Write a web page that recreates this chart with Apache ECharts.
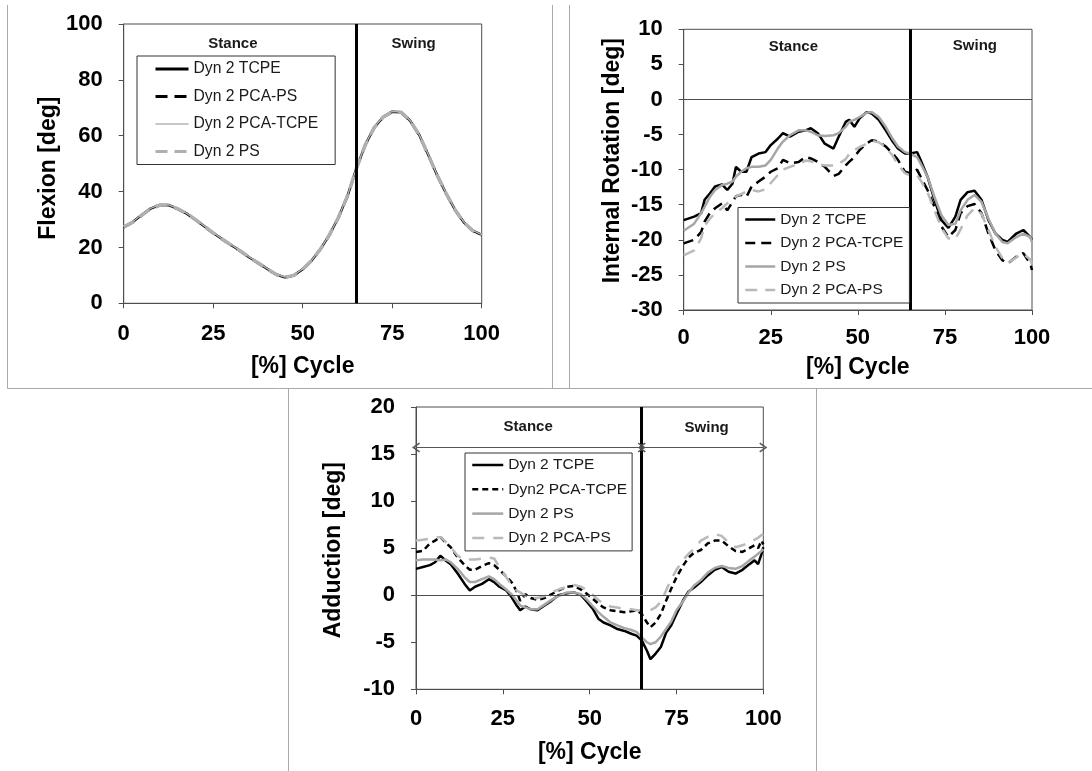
<!DOCTYPE html>
<html>
<head>
<meta charset="utf-8">
<title>Knee kinematics over the gait cycle</title>
<script src="https://cdn.jsdelivr.net/npm/echarts@6/dist/echarts.min.js"></script>
<style>
  html, body { margin: 0; padding: 0; background: #fff; }
  #chart { width: 1092px; height: 771px; }
</style>
</head>
<body>
<div id="chart"></div>
<script>
// ---- Flexion (% of gait cycle) ----
const flexPct = [0, 2.5, 5, 7.5, 10, 12.5, 15, 17.5, 20, 22.5, 25, 27.5, 30, 32.5, 35, 37.5, 40, 42.5, 45, 47.5,
  50, 52.5, 55, 57.5, 60, 62.5, 65, 67.5, 70, 72.5, 75, 77.5, 80, 82.5, 85, 87.5, 90, 92.5, 95, 97.5, 100];
const flexTCPE = [27.4, 29.1, 31.6, 33.9, 35.2, 35.2, 33.9, 32.2, 30.0, 27.6, 25.2, 23.0, 20.9, 18.8, 16.5, 14.5, 12.4, 10.4, 9.3, 10.0,
  12.2, 15.3, 19.5, 24.6, 30.8, 38.4, 48.3, 56.8, 63.0, 66.7, 68.6, 68.4, 65.4, 60.4, 53.4, 46.0, 39.5, 33.6, 29.0, 26.0, 24.5];
const flexPCAPS = [27.2, 29.0, 31.4, 33.8, 35.0, 35.1, 33.8, 32.1, 29.9, 27.5, 25.1, 22.9, 20.8, 18.7, 16.5, 14.4, 12.3, 10.3, 9.2, 9.9,
  12.1, 15.2, 19.4, 24.5, 30.7, 38.3, 48.2, 56.7, 62.9, 66.6, 68.5, 68.3, 65.3, 60.3, 53.3, 45.9, 39.4, 33.5, 28.9, 25.9, 24.4];
const flexPCATCPE = [27.5, 29.2, 31.7, 34.0, 35.3, 35.3, 34.0, 32.3, 30.1, 27.7, 25.3, 23.1, 21.0, 18.9, 16.6, 14.6, 12.5, 10.5, 9.4, 10.1,
  12.3, 15.4, 19.6, 24.7, 30.9, 38.5, 48.4, 56.9, 63.1, 66.8, 68.7, 68.5, 65.5, 60.5, 53.5, 46.1, 39.6, 33.7, 29.1, 26.1, 24.6];
const flexPS = [27.3, 29.0, 31.5, 33.9, 35.1, 35.2, 33.9, 32.2, 30.0, 27.6, 25.2, 23.0, 20.9, 18.8, 16.5, 14.5, 12.4, 10.4, 9.2, 10.0,
  12.2, 15.3, 19.5, 24.6, 30.8, 38.4, 48.3, 56.8, 63.0, 66.7, 68.6, 68.4, 65.4, 60.4, 53.4, 46.0, 39.5, 33.6, 29.0, 26.0, 24.5];

// ---- Internal rotation ----
const rotPct = [0, 3, 5, 6, 7.5, 9, 11, 12.5, 14, 15, 16.5, 18, 19.5, 21.5, 23.5, 25, 27, 28.5, 30.5, 33, 35, 36.5, 38.5, 40.5, 43,
  44.5, 46.5, 47.5, 49, 50.5, 52.5, 54, 56, 58, 60, 61.5, 63.5, 65, 67, 68, 70, 72, 74, 76, 78, 79.5, 81.5, 83.5, 85.5, 87.5,
  89.5, 91.5, 93, 95.5, 97.5, 99.5, 100];
const rotTCPE = [-17.2, -16.7, -16.2, -14.3, -13.4, -12.4, -12.1, -12.9, -12.0, -9.6, -10.3, -10.3, -8.2, -7.7, -7.5, -6.5, -5.6, -4.8, -5.3, -4.6, -4.4, -4.1, -4.8, -6.3, -7.0,
  -5.3, -3.2, -2.9, -3.9, -2.7, -1.8, -2.0, -2.9, -4.4, -6.0, -7.0, -7.7, -7.7, -7.5, -8.6, -11.0, -14.3, -17.2, -18.3, -16.7, -14.3, -13.2, -13.0, -14.3, -17.2,
  -19.1, -20.0, -20.3, -19.1, -18.6, -19.6, -20.0];
const rotPCATCPE = [-20.5, -20.0, -18.9, -17.4, -16.2, -15.5, -14.8, -15.8, -14.6, -13.8, -13.6, -13.9, -12.4, -11.7, -11.0, -10.3, -9.8, -8.6, -9.1, -8.9, -8.2, -8.4, -8.9, -9.6, -10.9,
  -10.6, -9.4, -8.9, -8.2, -7.2, -6.3, -5.8, -6.0, -6.7, -7.7, -8.6, -10.3, -10.5, -10.0, -11.0, -12.9, -15.3, -18.1, -19.6, -18.6, -16.2, -15.2, -14.9, -16.2, -19.1,
  -21.5, -22.9, -23.4, -22.4, -21.9, -23.4, -24.3];
const rotPS = [-18.7, -17.7, -16.2, -15.3, -13.9, -12.9, -12.2, -12.0, -11.7, -11.0, -10.3, -9.8, -9.6, -9.6, -9.4, -8.6, -7.0, -6.0, -5.1, -4.4, -4.4, -4.6, -5.1, -5.2, -5.1,
  -4.8, -3.9, -3.2, -2.9, -2.5, -1.9, -1.8, -2.5, -3.9, -5.6, -6.7, -7.5, -7.7, -8.2, -9.1, -11.0, -13.9, -16.5, -17.9, -17.7, -15.8, -14.3, -13.6, -14.6, -17.0,
  -19.1, -20.3, -20.5, -19.6, -19.1, -19.6, -20.3];
const rotPCAPS = [-22.2, -21.5, -19.8, -18.0, -17.0, -16.2, -15.5, -14.8, -14.3, -13.8, -13.5, -13.1, -12.9, -13.1, -12.8, -11.9, -10.8, -10.0, -9.6, -9.2, -8.7, -8.8, -9.2, -9.4, -9.4,
  -9.2, -8.5, -7.8, -7.2, -6.8, -6.3, -5.9, -6.1, -6.8, -8.0, -9.3, -10.5, -10.8, -10.8, -11.5, -13.2, -15.8, -18.3, -19.8, -19.9, -18.5, -16.5, -15.5, -16.3, -18.6,
  -21.0, -22.6, -23.3, -22.5, -22.0, -22.8, -23.5];

// ---- Adduction ----
const addPct = [0, 2, 4, 5.5, 7, 8.5, 10, 12, 14, 15.5, 17, 19, 21, 22.5, 24, 26, 27.5, 29, 30, 31.5, 33, 35, 37, 39, 41, 43.5,
  45.5, 47.5, 49, 51, 52.5, 54, 56, 58, 60, 62, 63.5, 65, 66.5, 67.5, 69, 70.5, 72, 73.5, 75, 77, 78.5, 80, 82, 84, 86, 88,
  90, 92, 94, 96, 97.5, 98.5, 99.5, 100];
const addTCPE = [2.8, 3.0, 3.2, 3.5, 4.2, 3.7, 3.3, 2.3, 1.2, 0.5, 0.9, 1.2, 1.7, 1.4, 0.9, 0.5, -0.2, -1.1, -1.6, -1.2, -1.5, -1.6, -1.1, -0.6, 0.0, 0.2,
  0.3, 0.0, -0.6, -1.5, -2.5, -2.9, -3.2, -3.6, -3.8, -4.1, -4.3, -4.8, -5.9, -6.8, -6.2, -5.5, -4.0, -3.2, -2.0, -0.5, 0.4, 0.8, 1.4, 2.1, 2.7, 3.0,
  2.5, 2.3, 2.7, 3.3, 3.7, 3.3, 4.4, 5.1];
const addPCATCPE = [4.6, 4.7, 5.5, 5.8, 6.2, 5.6, 5.1, 4.0, 3.2, 2.7, 2.7, 3.1, 3.4, 3.2, 2.7, 2.0, 1.4, 0.4, -0.6, 0.1, -0.3, -0.5, -0.3, 0.1, 0.5, 0.9,
  1.0, 0.6, 0.2, -0.4, -0.9, -1.3, -1.6, -1.7, -1.8, -1.7, -1.6, -2.0, -2.9, -3.4, -2.9, -2.0, -0.6, 0.7, 1.9, 3.2, 4.0, 4.5, 4.8, 5.5, 5.8, 5.8,
  5.2, 4.7, 4.6, 5.0, 5.3, 5.0, 5.8, 5.4];
const addPS = [3.7, 3.8, 3.8, 3.8, 3.7, 3.8, 3.5, 2.8, 1.9, 1.4, 1.4, 1.7, 2.0, 1.7, 1.2, 0.6, 0.1, -0.6, -1.1, -1.3, -1.5, -1.5, -1.0, -0.5, -0.1, 0.3,
  0.3, 0.1, -0.4, -1.2, -1.8, -2.3, -2.9, -3.2, -3.5, -3.7, -3.9, -4.5, -5.0, -5.2, -5.0, -4.4, -3.6, -2.8, -1.6, -0.6, 0.3, 1.0, 1.6, 2.4, 2.9, 3.1,
  2.9, 2.8, 3.1, 3.7, 4.1, 4.4, 4.7, 4.9];
const addPCAPS = [5.8, 5.9, 6.0, 6.1, 6.2, 5.7, 5.1, 4.2, 3.7, 3.8, 3.8, 3.9, 4.0, 3.9, 3.0, 1.9, 1.1, 0.5, 0.3, -0.1, -0.3, -0.3, -0.1, 0.3, 0.6, 0.9,
  1.1, 0.9, 0.6, 0.0, -0.5, -0.9, -1.2, -1.3, -1.5, -1.5, -1.6, -1.6, -1.6, -1.6, -1.3, -0.7, 0.5, 1.7, 2.7, 3.8, 4.4, 4.9, 5.8, 6.2, 6.5, 6.3,
  5.6, 5.1, 5.3, 5.6, 5.9, 6.1, 6.4, 6.5];

// ---- Axis / phase text ----
const xTitle = '[%] Cycle';
const yTitles = ['Flexion [deg]', 'Internal Rotation [deg]', 'Adduction [deg]'];
const stanceEnd = 65;
const phaseNames = ['Stance', 'Swing'];

const FONT = '"Liberation Sans", Arial, sans-serif';
const BLACK = '#000';
const GRAY = '#a6a6a6';
const GRAY_DASH = '#b9b9b9';

function pairs(xs, ys) { return xs.map((x, i) => [x, ys[i]]); }

function lineSeries(panel, name, xs, ys, color, width, type, extra) {
  return Object.assign({
    type: 'line', name: name, xAxisIndex: panel, yAxisIndex: panel,
    data: pairs(xs, ys), symbol: 'none', showSymbol: false, smooth: false,
    animation: false, silent: true,
    lineStyle: { color: color, width: width, type: type }
  }, extra || {});
}

function phaseMarks(panel, stanceAt, swingAt, withZero) {
  const lines = [{ xAxis: stanceEnd, lineStyle: { color: '#000', width: 3, type: 'solid' } }];
  if (withZero) lines.push({ yAxis: 0, lineStyle: { color: '#4d4d4d', width: 1, type: 'solid' } });
  return {
    markLine: { silent: true, animation: false, symbol: 'none', label: { show: false }, data: lines },
    markPoint: {
      silent: true, animation: false, symbol: 'rect', symbolSize: 1,
      itemStyle: { color: 'rgba(0,0,0,0)' },
      label: { show: true, position: 'inside', formatter: '{b}', fontSize: 15, fontWeight: 'bold', color: '#1a1a1a', fontFamily: FONT },
      data: [{ name: phaseNames[0], coord: stanceAt }, { name: phaseNames[1], coord: swingAt }]
    }
  };
}

// open chevron pointing "up" (rotated by markLine along the line direction)
const CHEVRON = 'path://M5,0 L10,8.4 L8.7,9.4 L5,3 L1.3,9.4 L0,8.4 Z';

const series = [
  // Flexion
  lineSeries(0, 'Dyn 2 TCPE', flexPct, flexTCPE, BLACK, 2.5, 'solid', phaseMarks(0, [30.5, 92.8], [81, 92.8], false)),
  lineSeries(0, 'Dyn 2 PCA-PS', flexPct, flexPCAPS, BLACK, 2.5, [12, 7]),
  lineSeries(0, 'Dyn 2 PCA-TCPE', flexPct, flexPCATCPE, '#b3b3b3', 1.5, 'solid'),
  lineSeries(0, 'Dyn 2 PS', flexPct, flexPS, '#b0b0b0', 3.5, [12, 7]),
  // Internal rotation
  lineSeries(1, 'Dyn 2 TCPE', rotPct, rotTCPE, BLACK, 2.5, 'solid', phaseMarks(1, [31.5, 7.5], [83.6, 7.6], true)),
  lineSeries(1, 'Dyn 2 PCA-TCPE', rotPct, rotPCATCPE, BLACK, 2.5, [10, 6]),
  lineSeries(1, 'Dyn 2 PS', rotPct, rotPS, GRAY, 2.5, 'solid'),
  lineSeries(1, 'Dyn 2 PCA-PS', rotPct, rotPCAPS, GRAY_DASH, 2.5, [12, 8]),
  // Adduction
  lineSeries(2, 'Dyn 2 TCPE', addPct, addTCPE, BLACK, 2.5, 'solid', phaseMarks(2, [32.3, 17.9], [83.7, 17.8], true)),
  lineSeries(2, 'Dyn2 PCA-TCPE', addPct, addPCATCPE, BLACK, 2.5, [6, 4], {
    markLine: {
      silent: true, animation: false, symbol: [CHEVRON, CHEVRON], symbolSize: [10, 8],
      label: { show: false },
      lineStyle: { color: '#555', width: 1, type: 'solid' },
      data: [
        [{ coord: [0, 15.7] }, { coord: [stanceEnd, 15.7] }],
        [{ coord: [stanceEnd, 15.7] }, { coord: [100, 15.7] }]
      ]
    }
  }),
  lineSeries(2, 'Dyn 2 PS', addPct, addPS, GRAY, 2.5, 'solid'),
  lineSeries(2, 'Dyn 2 PCA-PS', addPct, addPCAPS, GRAY_DASH, 2.5, [12, 9])
];

function legendItem(name, color, width, type) {
  return { name: name, lineStyle: { color: color, width: width, type: type }, itemStyle: { opacity: 0 } };
}

function legendBox(left, top, itemWidth, itemGap, padding, fontSize, data) {
  return {
    orient: 'vertical', left: left, top: top, itemWidth: itemWidth, itemHeight: 16, itemGap: itemGap,
    padding: padding, borderColor: '#333', borderWidth: 1, borderRadius: 0, backgroundColor: '#fff',
    selectedMode: false, z: 10,
    textStyle: { fontSize: fontSize, lineHeight: 16, color: '#1a1a1a', fontFamily: FONT },
    data: data
  };
}

const grids = [
  { left: 123.7, top: 24, width: 358, height: 279.3 },
  { left: 683.7, top: 29.3, width: 348.3, height: 280.7 },
  { left: 416, top: 407, width: 347.3, height: 282.3 }
];
const yRanges = [[0, 100, 20], [-30, 10, 5], [-10, 20, 5]];
const yNameGaps = [64, 60, 71];
// shifts the rotated titles along the axis so they sit where the panels put them
const yNamePads = [[0, 9, 0, 0], [0, 0, 0, 18], [0, 4, 0, 0]];
const xNameGaps = [52, 46, 52];
const xLabelMargins = [20, 16.5, 19];

function panelFrame(x1, y1, x2, y2) {
  return { type: 'line', silent: true, shape: { x1: x1, y1: y1, x2: x2, y2: y2 }, style: { stroke: '#a9a9a9', lineWidth: 1 } };
}

const option = {
  backgroundColor: '#fff',
  animation: false,
  grid: grids.map(g => Object.assign({ show: true, borderColor: '#4d4d4d', borderWidth: 1, containLabel: false }, g)),
  xAxis: grids.map((g, i) => ({
    gridIndex: i, type: 'value', min: 0, max: 100, interval: 25,
    name: xTitle, nameLocation: 'middle', nameGap: xNameGaps[i],
    nameTextStyle: { fontSize: 23, fontWeight: 'bold', color: '#000', fontFamily: FONT },
    axisLine: { show: true, onZero: false, lineStyle: { color: '#4d4d4d', width: 1 } },
    axisTick: { show: true, inside: false, length: 5, lineStyle: { color: '#4d4d4d' } },
    axisLabel: { fontSize: 22, fontWeight: 'bold', color: '#000', margin: xLabelMargins[i], fontFamily: FONT },
    splitLine: { show: false }
  })),
  yAxis: grids.map((g, i) => ({
    gridIndex: i, type: 'value', min: yRanges[i][0], max: yRanges[i][1], interval: yRanges[i][2],
    name: yTitles[i], nameLocation: 'middle', nameGap: yNameGaps[i],
    nameTextStyle: { fontSize: 23, fontWeight: 'bold', color: '#000', fontFamily: FONT, padding: yNamePads[i] },
    axisLine: { show: true, onZero: false, lineStyle: { color: '#4d4d4d', width: 1 } },
    axisTick: { show: true, inside: false, length: 5, lineStyle: { color: '#4d4d4d' } },
    axisLabel: { fontSize: 22, fontWeight: 'bold', color: '#000', margin: 21, fontFamily: FONT },
    splitLine: { show: false }
  })),
  legend: [
    legendBox(137, 56, 33, 11.5, [5, 17, 5, 17], 15.7, [
      legendItem('Dyn 2 TCPE', BLACK, 3, 'solid'),
      legendItem('Dyn 2 PCA-PS', BLACK, 3, [12, 7]),
      legendItem('Dyn 2 PCA-TCPE', '#b3b3b3', 1.5, 'solid'),
      legendItem('Dyn 2 PS', '#b0b0b0', 3, [12, 7])
    ]),
    legendBox(738, 207.5, 30, 7.5, [4, 6, 5, 6], 15.5, [
      legendItem('Dyn 2 TCPE', BLACK, 2.5, 'solid'),
      legendItem('Dyn 2 PCA-TCPE', BLACK, 2.5, [10, 6]),
      legendItem('Dyn 2 PS', GRAY, 2.5, 'solid'),
      legendItem('Dyn 2 PCA-PS', GRAY_DASH, 2.5, [12, 8])
    ]),
    legendBox(465, 453, 31, 8.3, [4, 5, 5, 6], 15.5, [
      legendItem('Dyn 2 TCPE', BLACK, 2.5, 'solid'),
      legendItem('Dyn2 PCA-TCPE', BLACK, 2.5, [6, 4]),
      legendItem('Dyn 2 PS', GRAY, 2.5, 'solid'),
      legendItem('Dyn 2 PCA-PS', GRAY_DASH, 2.5, [12, 9])
    ])
  ],
  graphic: [
    panelFrame(7.5, 5, 7.5, 388.5),
    panelFrame(552.5, 5, 552.5, 388.5),
    panelFrame(569.5, 5, 569.5, 388.5),
    panelFrame(7.5, 388.5, 1092, 388.5),
    panelFrame(288.5, 388.5, 288.5, 771),
    panelFrame(816.5, 388.5, 816.5, 771)
  ],
  series: series
};

const chart = echarts.init(document.getElementById('chart'), null, { renderer: 'canvas' });
chart.setOption(option);
</script>
</body>
</html>
